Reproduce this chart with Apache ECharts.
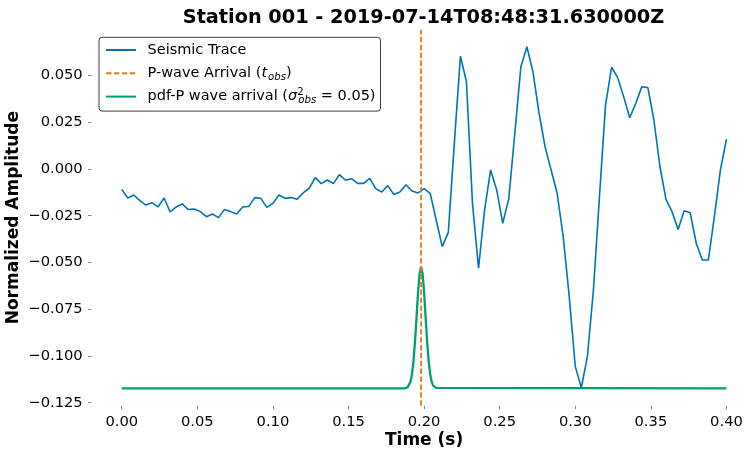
<!DOCTYPE html>
<html>
<head>
<meta charset="utf-8">
<script src="https://cdn.jsdelivr.net/npm/echarts@6/dist/echarts.min.js"></script>
<style>
  html, body { margin: 0; padding: 0; background: #fff; }
  #chart { width: 745px; height: 450px; }
</style>
</head>
<body>
<div id="chart"></div>
<script>
// Station 001 recording: normalized vertical amplitude, sampled every 4 ms
const SAMPLE_INTERVAL = 0.004;
const traceAmplitude = [
  -0.0109, -0.0155, -0.0139, -0.0169, -0.0193, -0.0180, -0.0203, -0.0155, -0.0230, -0.0203,
  -0.0187, -0.0217, -0.0214, -0.0228, -0.0255, -0.0241, -0.0260, -0.0216, -0.0228, -0.0241,
  -0.0203, -0.0200, -0.0153, -0.0157, -0.0205, -0.0184, -0.0139, -0.0157, -0.0153, -0.0162,
  -0.0128, -0.0103, -0.0046, -0.0078, -0.0059, -0.0078, -0.0030, -0.0060, -0.0052, -0.0077,
  -0.0077, -0.0050, -0.0105, -0.0123, -0.0089, -0.0137, -0.0123, -0.0084, -0.0118, -0.0128,
  -0.0105, -0.0130, -0.0273, -0.0415, -0.0339,  0.0137,  0.0603,  0.0467, -0.0184, -0.0531,
  -0.0220, -0.0005, -0.0112, -0.0290, -0.0160,  0.0190,  0.0547,  0.0654,  0.0520,  0.0300,
   0.0119, -0.0005, -0.0130, -0.0362, -0.0683, -0.1057, -0.1170, -0.1004, -0.0647, -0.0148,
   0.0342,  0.0544,  0.0490,  0.0387,  0.0274,  0.0351,  0.0440,  0.0435,  0.0262,  0.0012,
  -0.0162, -0.0228, -0.0323, -0.0223, -0.0234, -0.0397, -0.0487, -0.0487, -0.0255, -0.0005,
   0.0159
];

// Observed P-wave arrival time (s)
const tObs = 0.198;

// Arrival-time pdf, drawn on the amplitude scale
const pdfTime = [
  0.000, 0.187, 0.188, 0.189, 0.190, 0.191, 0.192, 0.193, 0.194, 0.195, 0.196, 0.197,
  0.198, 0.199, 0.200, 0.201, 0.202, 0.203, 0.204, 0.205, 0.206, 0.207, 0.208, 0.209, 0.400
];
const pdfValue = [
  -0.1173, -0.1173, -0.1171, -0.1168, -0.1159, -0.1138, -0.1096, -0.1026, -0.0922, -0.0792, -0.0660, -0.0560,
  -0.0522, -0.0560, -0.0660, -0.0792, -0.0922, -0.1026, -0.1096, -0.1138, -0.1159, -0.1168, -0.1171, -0.1173, -0.1173
];

// Axis ranges and ticks
const xRange = [-0.02, 0.42];
const yRange = [-0.1266, 0.0745];
const xTicks = [0, 0.05, 0.1, 0.15, 0.2, 0.25, 0.3, 0.35, 0.4];
const yTicks = [-0.125, -0.1, -0.075, -0.05, -0.025, 0, 0.025, 0.05];

const titleText = 'Station 001 - 2019-07-14T08:48:31.630000Z';
const seriesNames = ['Seismic Trace', 'P-wave Arrival', 'pdf-P wave arrival'];

const COLORS = { trace: '#0173b2', arrival: '#e8791a', pdf: '#029e73' };
const FONT = 'DejaVu Sans';

const traceData = traceAmplitude.map((v, i) => [+(i * SAMPLE_INTERVAL).toFixed(3), v]);
const pdfData = pdfTime.map((t, i) => [t, pdfValue[i]]);
// vertical arrival marker spanning the full amplitude range
const arrivalData = [[tObs, yRange[0]], [tObs, yRange[1]]];

const dash = [5.5, 2.4];

const legendLabels = {};
legendLabels[seriesNames[0]] = 'Seismic Trace';
legendLabels[seriesNames[1]] = 'P-wave Arrival ({it|t}{sub|obs})';
legendLabels[seriesNames[2]] = 'pdf-P wave arrival ({it|σ}{sup|2}{sub|obs} = 0.05)';

const chart = echarts.init(document.getElementById('chart'), null, { renderer: 'canvas' });

chart.setOption({
  animation: false,
  backgroundColor: '#ffffff',
  textStyle: { fontFamily: FONT },
  title: {
    text: titleText,
    left: 423.5,
    top: 8.5,
    padding: 0,
    textAlign: 'center',
    textStyle: { fontFamily: FONT, fontSize: 19.3, fontWeight: 'bold', color: '#000' }
  },
  legend: {
    orient: 'vertical',
    left: 99,
    top: 37.3,
    padding: [3.7, 5, 5.5, 6],
    itemGap: 5.3,
    itemWidth: 30,
    itemHeight: 18,
    backgroundColor: '#fff',
    borderColor: '#3d3d3d',
    borderWidth: 1,
    borderRadius: 3,
    selectedMode: false,
    data: seriesNames,
    formatter: name => legendLabels[name],
    itemStyle: { opacity: 0, borderWidth: 0 },
    textStyle: {
      fontFamily: FONT,
      fontSize: 14.5,
      color: '#000',
      height: 18,
      lineHeight: 18,
      padding: [0, 0, 0, 6.5],
      rich: {
        it: { fontFamily: FONT, fontSize: 14.5, fontStyle: 'italic', color: '#000', lineHeight: 18 },
        sup: { fontFamily: FONT, fontSize: 10.2, color: '#000', lineHeight: 8, verticalAlign: 'top', width: 0 },
        sub: { fontFamily: FONT, fontSize: 10.2, fontStyle: 'italic', color: '#000', lineHeight: 8, verticalAlign: 'bottom', padding: [0, 0, 0, 1] }
      }
    }
  },
  grid: {
    left: 91.5,
    width: 665.2,
    top: 29.7,
    height: 376,
    containLabel: false,
    outerBoundsMode: 'none'
  },
  xAxis: {
    type: 'value',
    min: xRange[0],
    max: xRange[1],
    name: 'Time (s)',
    nameLocation: 'middle',
    nameGap: 26,
    nameMoveOverlap: false,
    nameTextStyle: { fontFamily: FONT, fontSize: 17, fontWeight: 'bold', color: '#000' },
    axisLine: { show: false, onZero: false },
    splitLine: { show: false },
    axisTick: { show: true, length: 3.5, customValues: xTicks, lineStyle: { color: '#666', width: 0.8 } },
    axisLabel: {
      customValues: xTicks,
      margin: 9,
      fontFamily: FONT,
      fontSize: 14.7,
      color: '#000',
      formatter: v => v.toFixed(2)
    }
  },
  yAxis: {
    type: 'value',
    min: yRange[0],
    max: yRange[1],
    name: 'Normalized Amplitude',
    nameLocation: 'middle',
    nameGap: 69,
    nameMoveOverlap: false,
    nameRotate: 90,
    nameTextStyle: { fontFamily: FONT, fontSize: 17, fontWeight: 'bold', color: '#000' },
    axisLine: { show: false, onZero: false },
    splitLine: { show: false },
    axisTick: { show: true, length: 3.5, customValues: yTicks, lineStyle: { color: '#666', width: 0.8 } },
    axisLabel: {
      customValues: yTicks,
      margin: 8.8,
      fontFamily: FONT,
      fontSize: 14.7,
      color: '#000',
      formatter: v => (v < 0 ? '\u2212' : '') + Math.abs(v).toFixed(3)
    }
  },
  series: [
    {
      name: seriesNames[0],
      type: 'line',
      data: traceData,
      symbol: 'none',
      z: 2,
      lineStyle: { color: COLORS.trace, width: 1.6 },
      itemStyle: { color: COLORS.trace }
    },
    {
      name: seriesNames[1],
      type: 'line',
      data: arrivalData,
      symbol: 'none',
      z: 4,
      lineStyle: { color: COLORS.arrival, width: 1.8, type: dash },
      itemStyle: { color: COLORS.arrival }
    },
    {
      name: seriesNames[2],
      type: 'line',
      data: pdfData,
      symbol: 'none',
      z: 3,
      lineStyle: { color: COLORS.pdf, width: 2.3 },
      itemStyle: { color: COLORS.pdf }
    }
  ]
});
</script>
</body>
</html>
